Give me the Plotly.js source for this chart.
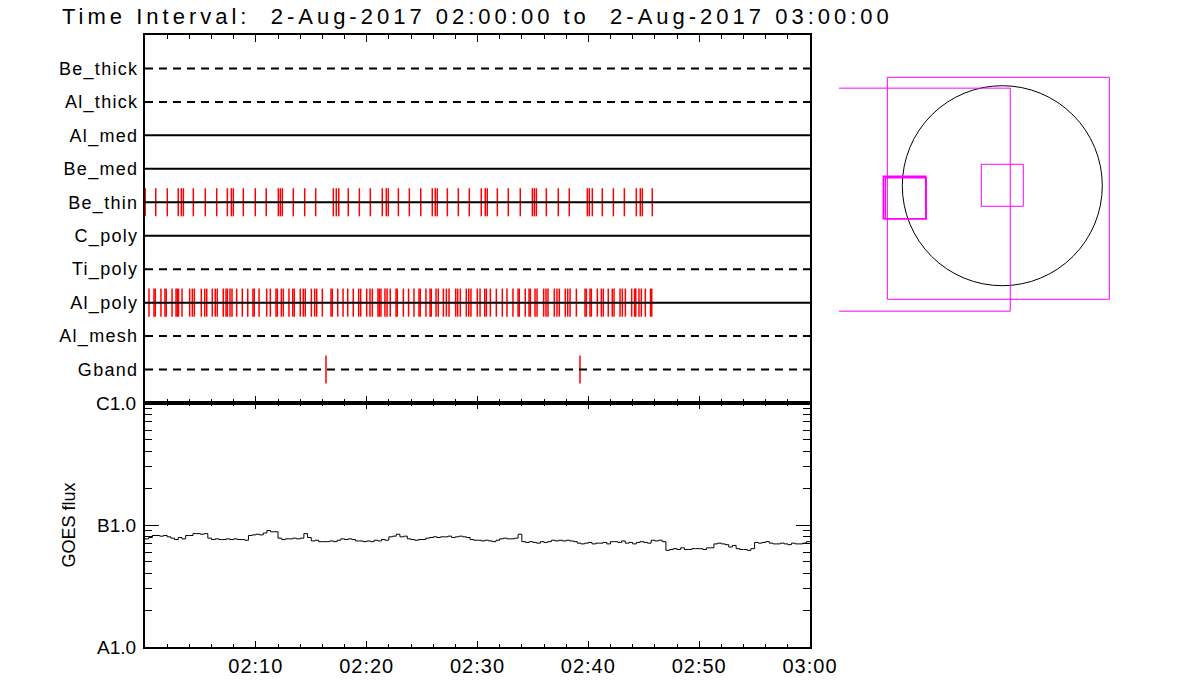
<!DOCTYPE html>
<html><head><meta charset="utf-8">
<script src="https://cdn.plot.ly/plotly-3.0.1.min.js"></script>
<style>
body{margin:0;background:#fff}
#chart{width:1200px;height:700px}
.annotation-text{letter-spacing:4px}
.subplot.xy .yaxislayer-above text{letter-spacing:1.3px}
.subplot.x2y2 .xaxislayer-above text{letter-spacing:1px}
</style>
</head><body><div id="chart"></div>
<script>
// ---------- data ----------
const titleText = 'Time Interval:\u00a0\u00a02-Aug-2017 02:00:00 to\u00a0\u00a02-Aug-2017 03:00:00';
const filters = ['Be_thick','Al_thick','Al_med','Be_med','Be_thin','C_poly','Ti_poly','Al_poly','Al_mesh','Gband'];
const filterDashed = [true,true,false,false,false,false,true,false,true,true];

// event times, minutes after 02:00
const beThinMin = [0.02,0.97,2.01,3.00,3.28,3.46,4.36,5.44,6.47,7.43,7.79,7.97,8.87,9.95,10.94,12.03,12.21,12.39,13.38,14.41,15.40,16.99,17.26,17.48,18.34,19.34,20.33,21.41,21.77,21.95,22.86,23.85,24.88,25.92,26.19,26.37,27.28,28.27,29.26,30.34,30.70,30.88,31.79,32.78,33.86,34.95,35.13,35.31,36.21,37.29,38.28,39.91,40.09,40.36,41.26,42.26,43.25,44.33,44.69,44.87,45.77];
const alPolyMin = [0.36,0.81,0.93,1.44,1.80,1.92,2.44,2.80,2.91,3.02,3.34,4.03,4.27,4.45,5.08,5.39,5.57,6.07,6.34,6.52,7.06,7.31,7.43,7.67,7.85,8.27,8.78,9.27,9.74,9.86,10.29,10.98,11.31,11.82,11.94,12.30,12.48,12.99,13.33,13.47,14.01,14.28,14.46,15.01,15.31,15.49,16.00,16.78,16.90,17.39,17.87,18.29,18.79,19.28,19.46,20.00,20.30,20.51,21.02,21.14,21.29,21.65,21.84,22.13,22.65,22.76,23.31,23.78,24.27,24.72,24.84,25.35,25.72,25.83,26.26,26.46,26.92,27.19,27.43,28.03,28.21,28.45,28.99,29.21,29.41,29.98,30.23,30.65,30.80,31.16,31.70,32.24,32.66,33.20,33.66,33.77,34.31,34.65,34.77,35.19,35.37,35.97,36.18,36.36,36.93,37.17,37.38,37.92,38.14,38.35,38.92,39.70,39.82,40.15,40.27,40.81,41.17,41.35,41.80,42.16,42.32,42.86,43.07,43.34,43.91,44.17,44.28,44.57,44.78,45.14,45.61,45.72];
const gbandMin = [16.33,39.25];

// GOES flux, units of 1e-8 W/m^2, one value every 20 s from 02:00:00
const goesCadenceSec = 20;
const goesFlux = [
7.7,7.9,8.2, 8.2,8.1,8.2, 8.0,7.8,7.6, 7.9,7.7,8.2, 8.2,8.5,8.5, 8.4,8.5,7.8,
7.6,7.7,7.6, 7.6,7.7,7.6, 7.7,7.6,7.6, 7.5,8.2,8.3, 8.4,8.3,8.6, 9.0,8.8,8.8,
7.8,7.6,7.7, 7.7,7.8,7.7, 7.8,8.5,7.9, 7.4,7.5,7.3, 7.3,7.3,7.4, 7.3,7.5,7.7,
7.6,7.7,7.6, 7.4,7.4,7.3, 7.4,7.3,7.5, 7.4,7.6,7.5, 8.0,8.1,8.4, 8.0,8.1,7.7,
7.6,7.5,7.6, 7.6,7.8,7.9, 8.0,7.9,8.0, 8.0,8.1,7.9, 8.0,8.1,8.0, 7.9,7.6,7.5,
7.5,7.4,7.5, 7.4,7.3,7.5, 7.7,7.8,7.7, 7.7,7.8,8.4, 7.3,7.2,7.3, 7.2,7.1,7.3,
7.2,7.3,7.5, 7.4,7.5,7.4, 7.5,7.4,7.3, 7.1,7.0,7.1, 7.2,7.0,7.1, 7.1,7.2,7.0,
7.3,7.3,7.2, 7.4,7.1,7.2, 7.0,7.2,7.3, 7.2,7.1,7.5, 7.4,7.5,7.3, 6.2,6.3,6.4,
6.3,6.5,6.3, 6.3,6.4,6.4, 6.4,6.3,6.5, 6.5,7.0,7.1, 7.0,6.9,6.6, 6.8,6.4,6.3,
6.3,6.2,6.4, 7.2,7.1,7.2, 7.3,7.1,7.0, 7.0,7.1,7.0, 6.9,7.1,7.0, 7.0,7.1,7.3,
7.3];
const goesTickVals = [1e-8,1e-7,1e-6];
const goesTickText = ['A1.0','B1.0','C1.0'];
const timeTickMin = [10,20,30,40,50,60];
const timeTickLabels = ['02:10','02:20','02:30','02:40','02:50','03:00'];

// solar context panel (arcsec)
const sunRadius = [960];
const fovCx = [-38,-994,0,-939,-927];
const fovCy = [-25,-134,4,-113,-120];
const fovSize = [2131,2141,403,407,394];
const fovLineW = [1,1,1,1.5,1.5];

// ---------- helpers ----------
const T0 = Date.UTC(2017,7,2,2,0,0);
function tstr(min){ return new Date(T0 + Math.round(min*60000)).toISOString().replace('T',' ').replace('Z',''); }
const tStart = tstr(0), tEnd = tstr(60);
const W = 1200, H = 700;
const px = v => v/W, py = v => 1 - v/H;

const nRows = filters.length;
const rowY = i => nRows - i;

const traces = [];
function eventTrace(times, rowIdx){
  const xs=[], ys=[];
  const y = rowY(rowIdx);
  times.forEach(m => { xs.push(tstr(m), tstr(m), null); ys.push(y-0.42, y+0.42, null); });
  return {x:xs, y:ys, mode:'lines', line:{color:'#ff0000', width:1.5}, xaxis:'x', yaxis:'y', hoverinfo:'skip', showlegend:false};
}
traces.push(eventTrace(beThinMin, filters.indexOf('Be_thin')));
traces.push(eventTrace(alPolyMin, filters.indexOf('Al_poly')));
traces.push(eventTrace(gbandMin, filters.indexOf('Gband')));
filters.forEach((f,i) => {
  traces.push({x:[tStart,tEnd], y:[rowY(i),rowY(i)], mode:'lines',
    line:{color:'#000', width:2, dash: filterDashed[i] ? '8px,6px' : 'solid'},
    xaxis:'x', yaxis:'y', hoverinfo:'skip', showlegend:false});
});
traces.push({x: goesFlux.map((v,i)=>tstr(i*goesCadenceSec/60)), y: goesFlux.map(v=>v*1e-8),
  mode:'lines', line:{color:'#000', width:1, shape:'hv'}, xaxis:'x2', yaxis:'y2', showlegend:false, hoverinfo:'skip'});
traces.push({x:[0], y:[0], mode:'markers', marker:{opacity:0}, xaxis:'x3', yaxis:'y3', showlegend:false, hoverinfo:'skip'});

const shapes = [];
shapes.push({type:'circle', xref:'x3', yref:'y3', x0:-sunRadius[0], x1:sunRadius[0], y0:-sunRadius[0], y1:sunRadius[0], line:{color:'#000', width:1}});
fovCx.forEach((cx,i)=>{
  const h = fovSize[i]/2;
  shapes.push({type:'rect', xref:'x3', yref:'y3', x0:cx-h, x1:cx+h, y0:fovCy[i]-h, y1:fovCy[i]+h, line:{color:'#ff00ff', width:fovLineW[i]}});
});

const mainDom = [px(145), px(810)];
const FF = 'Liberation Sans, Arial, sans-serif';
const axCommon = {showline:true, linewidth:2, linecolor:'#000', mirror:'ticks', showgrid:false, zeroline:false, tickcolor:'#000', tickwidth:1};

const scale = 9.6, cX = 1002.3, cY = 185.7;
const cx0 = 839, cx1 = 1190, cy0 = 40, cy1 = 390;

const layout = {
  width:W, height:H, margin:{l:0,r:0,t:0,b:0}, paper_bgcolor:'#fff', plot_bgcolor:'#fff', showlegend:false,
  font:{family:FF, color:'#000'},
  xaxis: Object.assign({}, axCommon, {domain:mainDom, anchor:'y', type:'date', range:[tStart,tEnd],
    showticklabels:false, ticks:'inside', ticklen:7, tickmode:'linear', tick0:tStart, dtick:600000,
    minor:{ticks:'inside', ticklen:4, tickmode:'linear', tick0:tStart, dtick:120000, tickcolor:'#000', tickwidth:1}}),
  yaxis: Object.assign({}, axCommon, {domain:[py(403), py(35)], anchor:'x', range:[0, nRows+1],
    tickmode:'array', tickvals: filters.map((f,i)=>rowY(i)), ticktext: filters, ticks:'', ticklabelstandoff:1,
    tickfont:{family:FF, size:18, color:'#000'}}),
  xaxis2: Object.assign({}, axCommon, {domain:mainDom, anchor:'y2', type:'date', range:[tStart,tEnd],
    ticks:'inside', ticklen:6, tickmode:'array', tickvals: timeTickMin.map(tstr), ticktext: timeTickLabels,
    tickfont:{family:FF, size:20, color:'#000'}, ticklabelstandoff:0,
    minor:{ticks:'inside', ticklen:3, tickmode:'linear', tick0:tStart, dtick:120000, tickcolor:'#000', tickwidth:1}}),
  yaxis2: Object.assign({}, axCommon, {domain:[py(647), py(403)], anchor:'x2', type:'log', range:[-8,-6],
    ticks:'inside', ticklen:14, tickmode:'array', tickvals: goesTickVals, ticktext: goesTickText,
    tickfont:{family:FF, size:19, color:'#000'}, ticklabelstandoff:3,
    minor:{ticks:'inside', ticklen:7, tickmode:'array',
      tickvals:[2e-8,3e-8,4e-8,5e-8,6e-8,7e-8,8e-8,9e-8,2e-7,3e-7,4e-7,5e-7,6e-7,7e-7,8e-7,9e-7], tickcolor:'#000', tickwidth:1},
    title:{text:'GOES flux', font:{family:FF, size:18, color:'#000'}, standoff:16}}),
  xaxis3: {domain:[px(cx0), px(cx1)], anchor:'y3', range:[(cx0-cX)*scale, (cx1-cX)*scale], visible:false, showgrid:false, zeroline:false},
  yaxis3: {domain:[py(cy1), py(cy0)], anchor:'x3', range:[(cY-cy1)*scale, (cY-cy0)*scale], visible:false, showgrid:false, zeroline:false},
  shapes: shapes,
  annotations:[{text:titleText, xref:'paper', yref:'paper', x:px(60), y:py(16), xanchor:'left', yanchor:'middle', showarrow:false,
    font:{family:FF, size:22, color:'#000'}}]
};

Plotly.newPlot('chart', traces, layout, {staticPlot:true, displayModeBar:false});
</script>
</body></html>
